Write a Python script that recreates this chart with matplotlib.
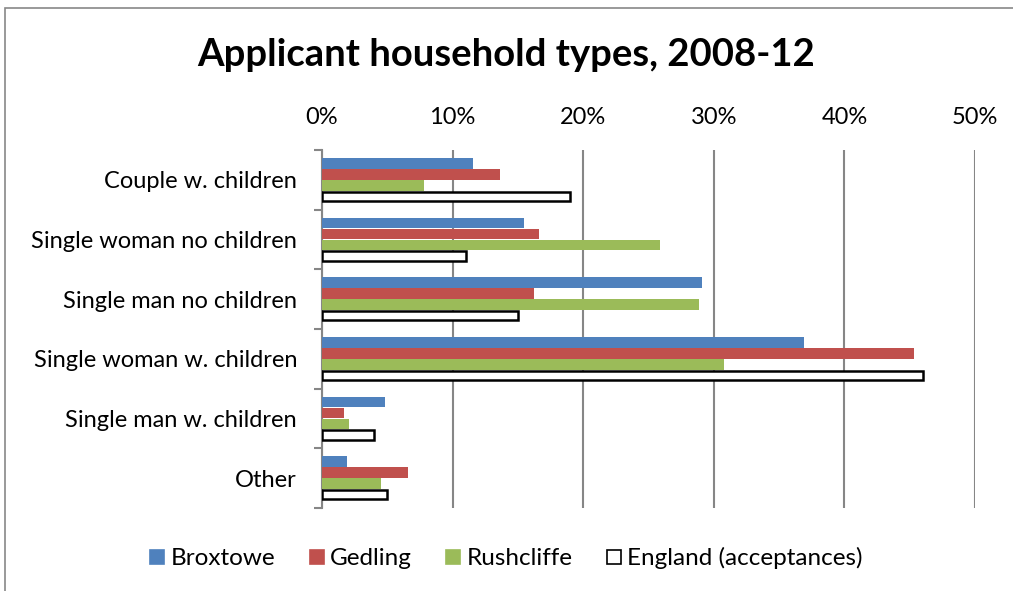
import matplotlib.pyplot as plt
import numpy as np
from matplotlib.lines import Line2D
from matplotlib.patches import Rectangle
from matplotlib.ticker import FuncFormatter

categories = ["Couple w. children", "Single woman no children", "Single man no children",
              "Single woman w. children", "Single man w. children", "Other"]
broxtowe = [11.6, 15.5, 29.1, 36.9, 4.8, 1.9]
gedling = [13.6, 16.6, 16.2, 45.3, 1.7, 6.55]
rushcliffe = [7.8, 25.9, 28.9, 30.75, 2.05, 4.5]
england = [19.0, 11.0, 15.0, 46.0, 3.95, 5.0]

plt.rcParams['font.family'] = ['Lato', 'DejaVu Sans']

fig = plt.figure(figsize=(10.13, 5.91), dpi=100)
ax = fig.add_axes([322 / 1013, 1 - 508 / 591, (975 - 322) / 1013, (508 - 150) / 591])

# chart border
fig.patches.append(Rectangle((5 / 1013, -0.1), 1.1, 1 - 8 / 591 + 0.1, transform=fig.transFigure,
                             fill=False, edgecolor='#888888', linewidth=1.2))

y = np.arange(len(categories))
h = 0.185
series = [
    (broxtowe, "Broxtowe", '#4f81bd', '#4f81bd'),
    (gedling, "Gedling", '#c0504d', '#c0504d'),
    (rushcliffe, "Rushcliffe", '#9bbb59', '#9bbb59'),
    (england, "England (acceptances)", 'white', 'black'),
]
handles = []
for i, (vals, name, fc, ec) in enumerate(series):
    if fc == 'white':
        ax.barh(y + (i - 1.5) * h, vals, height=h * 0.85, facecolor=fc, edgecolor=ec,
                linewidth=1.8, zorder=3)
    else:
        ax.barh(y + (i - 1.5) * h, vals, height=h * 0.97, color=fc, zorder=3)
    handles.append(Line2D([], [], linestyle='none', marker='s', markersize=9.5,
                          markerfacecolor=fc, markeredgecolor=ec, markeredgewidth=1.2, label=name))

ax.set_xlim(0, 50)
ax.set_ylim(len(categories) - 0.5, -0.5)
ax.set_xticks(range(0, 51, 10))
ax.xaxis.set_major_formatter(FuncFormatter(lambda v, p: f"{v:.0f}%"))
ax.xaxis.tick_top()
ax.tick_params(axis='x', length=0, labelsize=17, pad=16)
ax.grid(axis='x', color='#868686', linewidth=1.5, zorder=0)

ax.set_yticks(y)
ax.set_yticklabels(categories)
ax.set_yticks(np.arange(-0.5, len(categories)), minor=True)
ax.tick_params(axis='y', which='major', length=0, labelsize=17, pad=18)
ax.tick_params(axis='y', which='minor', length=6, width=1.5, color='#868686')

for side in ['top', 'right', 'bottom']:
    ax.spines[side].set_visible(False)
ax.spines['left'].set_color('#868686')
ax.spines['left'].set_linewidth(1.5)

fig.text(0.5, 1 - 55 / 591, "Applicant household types, 2008-12", ha='center', va='center',
         fontsize=27.5, fontweight='bold')

fig.legend(handles=handles, loc='center', bbox_to_anchor=(0.5, 1 - 558 / 591), ncol=4, frameon=False,
           fontsize=17.5, handlelength=0.6, columnspacing=1.4, handletextpad=0.25)

fig.savefig("out.png", dpi=100)
